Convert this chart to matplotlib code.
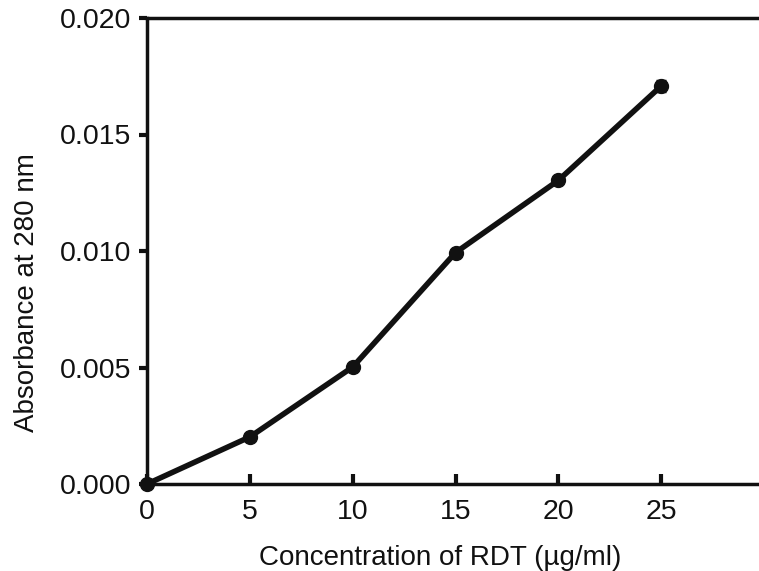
import matplotlib.pyplot as plt

# Absorbance at 280 nm vs RDT concentration
conc = [0, 5, 10, 15, 20, 25]
absorbance = [0.0, 0.00202, 0.00502, 0.00993, 0.01303, 0.01708]
abs_err = [0.00003, 0.00005, 0.00005, 0.00012, 0.00005, 0.00022]

x_ticks = [0, 5, 10, 15, 20, 25]
y_ticks = [0.000, 0.005, 0.010, 0.015, 0.020]

plt.rcParams['font.family'] = ['Liberation Sans', 'DejaVu Sans']

fig = plt.figure(figsize=(7.59, 5.71), dpi=100)
ax = fig.add_axes([147 / 759, 1 - 484 / 571, (764 - 147) / 759, (484 - 18) / 571])

ax.errorbar(conc, absorbance, yerr=abs_err, color='#111111', lw=4,
            marker='o', ms=10, capsize=3.5, capthick=2.5, elinewidth=2.5,
            clip_on=False, zorder=3)

ax.set_xlim(0, 30)
ax.set_ylim(0, 0.020)
ax.set_xticks(x_ticks)
ax.set_yticks(y_ticks)
ax.set_xticklabels([str(v) for v in x_ticks], fontsize=20.5)
ax.set_yticklabels(['%.3f' % v for v in y_ticks], fontsize=20.5)

for side in ['left', 'top', 'bottom']:
    ax.spines[side].set_linewidth(2.5)
    ax.spines[side].set_color('#111111')
ax.spines['right'].set_visible(False)

ax.tick_params(axis='x', direction='in', length=7, width=3, pad=11,
               colors='#111111')
ax.tick_params(axis='y', direction='out', length=6, width=3, pad=5,
               colors='#111111')

ax.set_xlabel('Concentration of RDT (µg/ml)', fontsize=20, color='#111111')
ax.set_ylabel('Absorbance at 280 nm', fontsize=20, color='#111111')
ax.xaxis.set_label_coords(0.475, -0.13)
ax.yaxis.set_label_coords(-0.173, 0.41)

fig.savefig('out.png', dpi=100)
